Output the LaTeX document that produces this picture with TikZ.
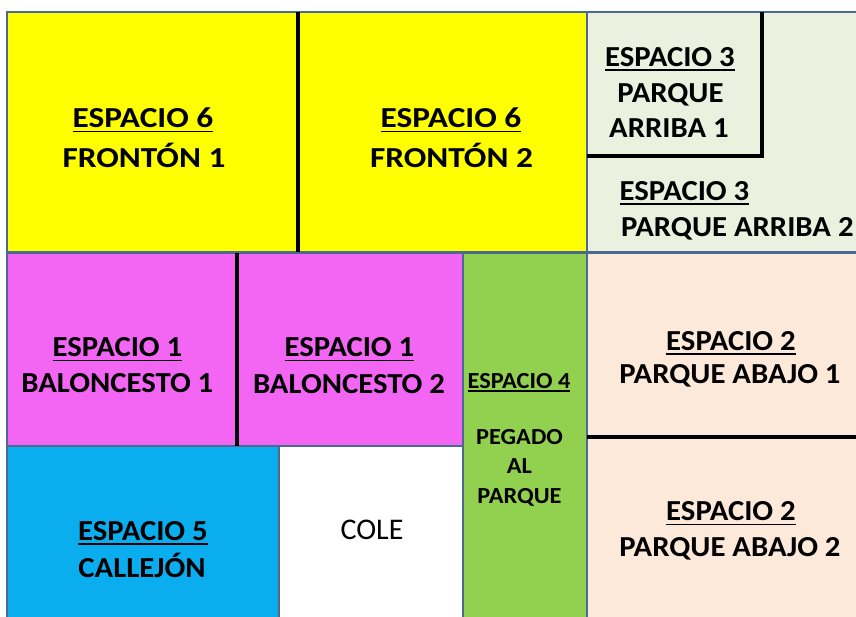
\documentclass[tikz,border=0pt]{standalone}
\usepackage{graphicx}
\usepackage{fontspec}
\setmainfont{Carlito}
\definecolor{edge}{HTML}{4A6A93}
\definecolor{yel}{HTML}{FFFF00}
\definecolor{mag}{HTML}{F366F3}
\definecolor{grn}{HTML}{92D050}
\definecolor{blu}{HTML}{0AAEEF}
\definecolor{lgrn}{HTML}{EBF1DE}
\definecolor{peach}{HTML}{FDE9D9}
\newcommand\myul[1]{\setbox0=\hbox{#1}\rlap{\rule[-4.7pt]{\wd0}{1.8pt}}\box0}
\newcommand\myuls[1]{\setbox0=\hbox{#1}\rlap{\rule[-3.9pt]{\wd0}{1.5pt}}\box0}
\newcommand\sT[1]{\scalebox{1.15}[1]{#1}}
\newcommand\sL[1]{\scalebox{1.06}[1]{#1}}
\tikzset{
  lbl/.style={inner sep=0pt, anchor=base, font=\fontsize{29}{30}\selectfont\bfseries},
  lblsm/.style={inner sep=0pt, anchor=base, font=\fontsize{23}{24}\selectfont\bfseries},
  lblreg/.style={inner sep=0pt, anchor=base, font=\fontsize{30}{31}\selectfont},
  room/.style={draw=edge, line width=1.5pt},
  wall/.style={draw=black, line width=4pt, line join=miter}
}
\begin{document}
\begin{tikzpicture}[x=1pt,y=-1pt]
\useasboundingbox (0,0) rectangle (856,616);
\clip (0,0) rectangle (856,616);
% fills
\fill[yel] (7,12) rectangle (297,252);
\fill[yel] (297,12) rectangle (587,252);
\fill[lgrn] (587,12) rectangle (880,252);
\fill[mag] (7,253) rectangle (237,446);
\fill[mag] (237,253) rectangle (463,446);
\fill[grn] (463,253) rectangle (587,640);
\fill[peach] (587,253) rectangle (880,640);
\fill[blu] (7,446) rectangle (279,640);
\fill[white] (279,446) rectangle (463,640);
% borders
\draw[room] (7,12) rectangle (297,252);
\draw[room] (297,12) rectangle (587,252);
\draw[room] (587,12) rectangle (880,252);
\draw[room] (7,253) rectangle (237,446);
\draw[room] (237,253) rectangle (463,446);
\draw[room] (463,253) rectangle (587,640);
\draw[room] (587,253) rectangle (880,640);
\draw[room] (7,446) rectangle (279,640);
\draw[room] (279,446) rectangle (463,640);
% thick walls
\draw[wall] (297.5,12) -- (297.5,252);
\draw[wall] (237,253) -- (237,446);
\draw[wall] (762,12) -- (762,156) -- (587,156);
\draw[wall] (587,436.5) -- (880,436.5);
% labels
\node[lbl] (y1a) at (143,127.7) {\sT{\myul{ESPACIO 6}}};
\node[lbl] (y1b) at (144,167.7) {\sT{FRONTÓN 1}};
\node[lbl] (y2a) at (451,127.7) {\sT{\myul{ESPACIO 6}}};
\node[lbl] (y2b) at (451.5,167.7) {\sT{FRONTÓN 2}};
\node[lbl] (g1a) at (670,66) {\sL{\myul{ESPACIO 3}}};
\node[lbl] (g1b) at (670.5,102.7) {\sL{PARQUE}};
\node[lbl] (g1c) at (669,137.3) {\sL{ARRIBA 1}};
\node[lbl] (g2a) at (684.5,200) {\sL{\myul{ESPACIO 3}}};
\node[lbl] (g2b) at (737.3,236.7) {\sL{PARQUE ARRIBA 2}};
\node[lbl] (m1a) at (117.5,356.7) {\sL{\myul{ESPACIO 1}}};
\node[lbl] (m1b) at (117.3,392.7) {\sL{BALONCESTO 1}};
\node[lbl] (m2a) at (349.5,356.7) {\sL{\myul{ESPACIO 1}}};
\node[lbl] (m2b) at (349,393) {\sL{BALONCESTO 2}};
\node[lblsm] (e4a) at (519,388) {\sL{\myuls{ESPACIO 4}}};
\node[lblsm] (e4b) at (519.5,444) {\sL{PEGADO}};
\node[lblsm] (e4c) at (519.5,473) {\sL{AL}};
\node[lblsm] (e4d) at (519.5,503) {\sL{PARQUE}};
\node[lbl] (p1a) at (731,350) {\sL{\myul{ESPACIO 2}}};
\node[lbl] (p1b) at (730,383.3) {\sL{PARQUE ABAJO 1}};
\node[lbl] (p2a) at (731,520.7) {\sL{\myul{ESPACIO 2}}};
\node[lbl] (p2b) at (730,556.7) {\sL{PARQUE ABAJO 2}};
\node[lbl] (b5a) at (143,540) {\sL{\myul{ESPACIO 5}}};
\node[lbl] (b5b) at (142,577) {\sL{CALLEJÓN}};
\node[lblreg] (cole) at (372,539) {COLE};
\end{tikzpicture}
\end{document}
